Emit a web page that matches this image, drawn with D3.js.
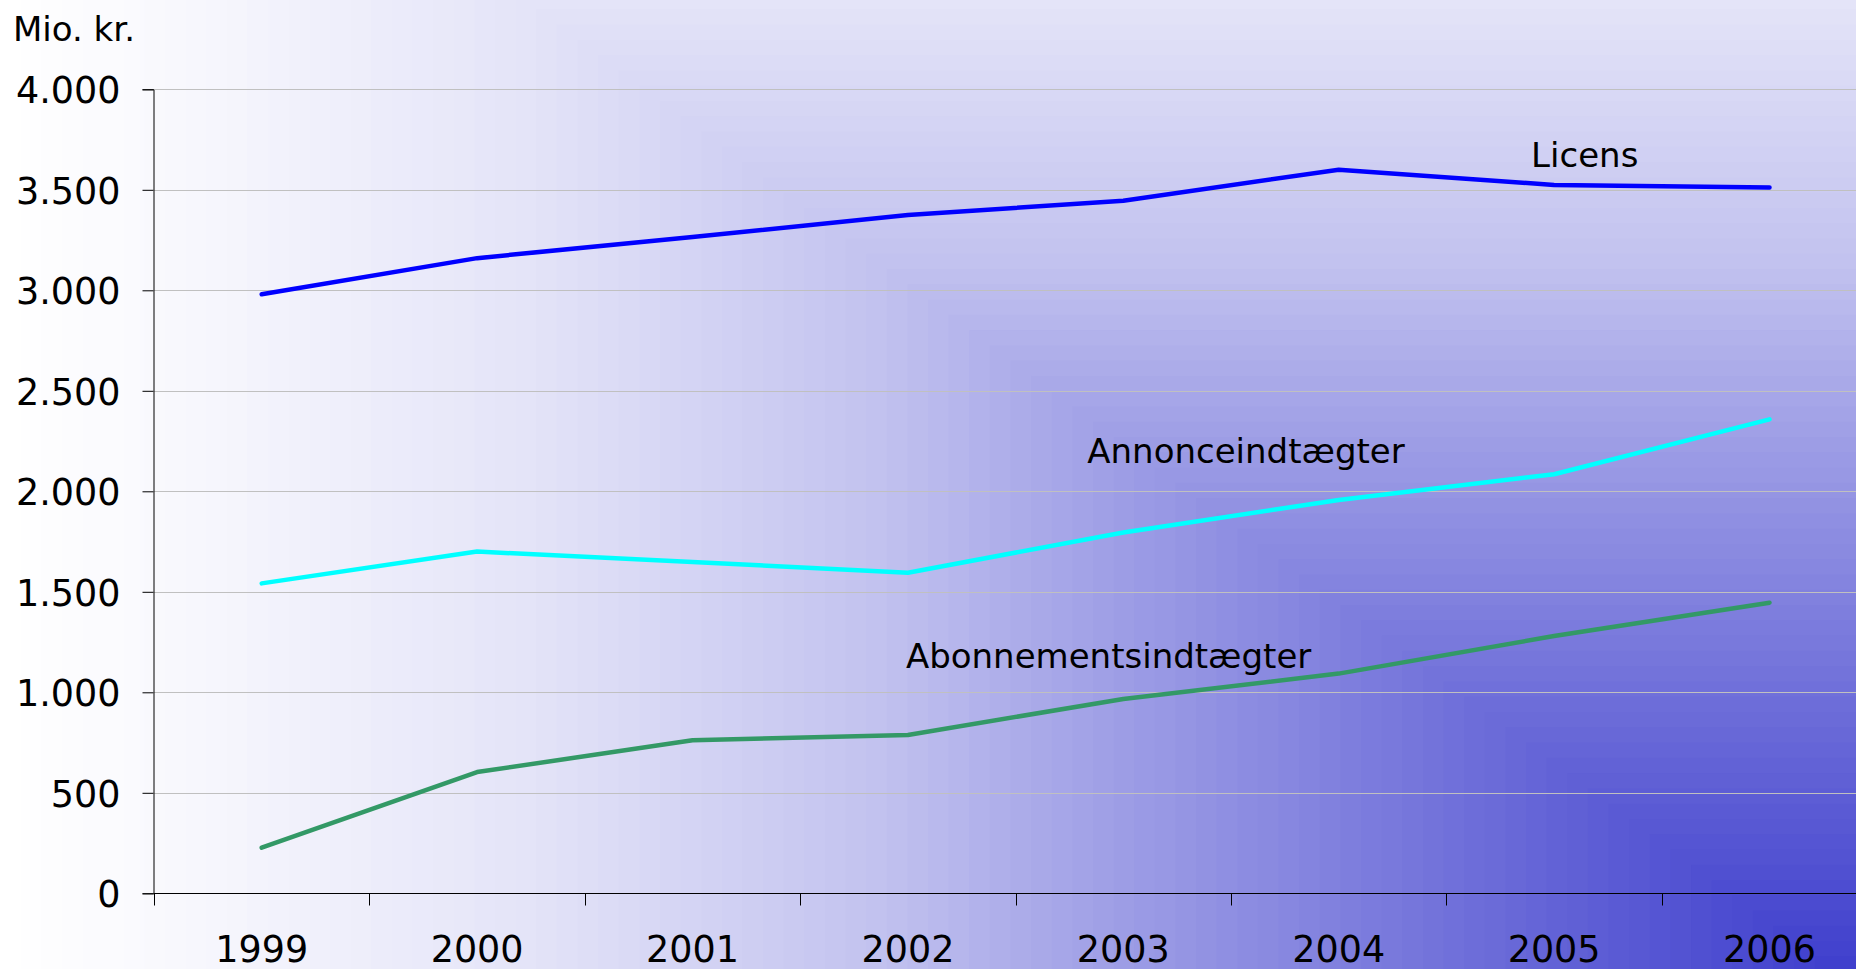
<!DOCTYPE html>
<html>
<head>
<meta charset="utf-8">
<script src="https://cdn.jsdelivr.net/npm/d3@7"></script>
<style>
  body { margin: 0; overflow: hidden; background: #fff; }
  svg { display: block; font-family: "DejaVu Sans", Verdana, sans-serif; }
</style>
</head>
<body>
<div id="chart"></div>
<script>
// Data
const years = ["1999", "2000", "2001", "2002", "2003", "2004", "2005", "2006"];
const licens = [2980, 3160, 3265, 3375, 3446, 3600, 3524, 3512];
const annonce = [1542, 1700, 1648, 1595, 1795, 1957, 2085, 2358];
const abonnement = [227, 603, 761, 788, 967, 1093, 1280, 1446];
const yTicks = [0, 500, 1000, 1500, 2000, 2500, 3000, 3500, 4000];

const series = [
    { name: "Licens", values: licens, color: "#0000ff", labelYear: "2005", labelValue: 3613, dx: -23 },
    { name: "Annonceindtægter", values: annonce, color: "#00ffff", labelYear: "2003", labelValue: 2142, dx: -36 },
    { name: "Abonnementsindtægter", values: abonnement, color: "#339966", labelYear: "2002", labelValue: 1122, dx: -2 },
];

const width = 1856;
const height = 969;
const margin = { top: 89.3, left: 154, bottom: 75.7 };
const band = 215.4;

const svg = d3.select("#chart")
    .append("svg")
    .attr("width", width)
    .attr("height", height);

// Background: corner gradient, L-shaped bands growing toward bottom right
const bg = { x0: 0, y0: -388, w: 1856, h: 1375 };
const ease = d3.scaleLinear()
    .domain([0, 0.095, 0.287, 0.38, 0.478, 0.574, 0.82, 1])
    .range([0, 0.035, 0.14, 0.23, 0.32, 0.46, 0.78, 1]);
const shade = d3.interpolateRgb("#ffffff", "#3c3ccc");
const nSteps = 90;
const steps = d3.range(0, nSteps).map(i => i / nSteps);
svg.append("g")
    .selectAll("rect")
    .data(steps)
    .join("rect")
    .attr("x", t => Math.max(0, bg.x0 + t * bg.w))
    .attr("y", t => Math.max(0, bg.y0 + t * bg.h))
    .attr("width", t => width - Math.max(0, bg.x0 + t * bg.w))
    .attr("height", t => height - Math.max(0, bg.y0 + t * bg.h))
    .attr("fill", t => shade(ease(t + 0.5 / nSteps)));

// Scales
const x = d3.scaleBand()
    .domain(years)
    .range([margin.left, margin.left + band * years.length]);

const y = d3.scaleLinear()
    .domain([0, 4000])
    .range([height - margin.bottom, margin.top]);

const cx = d => x(d) + x.bandwidth() / 2;

// Gridlines
svg.append("g")
    .selectAll("line")
    .data(yTicks.slice(1))
    .join("line")
    .attr("x1", margin.left)
    .attr("x2", width)
    .attr("y1", d => Math.round(y(d)) + 0.5)
    .attr("y2", d => Math.round(y(d)) + 0.5)
    .attr("stroke", "#c0c0c0")
    .attr("stroke-width", 1);

// Y axis
const yAxis = svg.append("g")
    .attr("transform", `translate(${margin.left - 0.5},0)`)
    .call(d3.axisLeft(y)
        .tickValues(yTicks)
        .tickSize(11)
        .tickPadding(22)
        .tickFormat(d => d3.format(",")(d).replace(/,/g, ".")));
yAxis.select(".domain").attr("stroke", "#000");
yAxis.selectAll(".tick line").attr("stroke", "#000");
yAxis.selectAll(".tick text")
    .attr("font-size", 36.5)
    .attr("font-family", "DejaVu Sans, Verdana, sans-serif")
    .attr("fill", "#000")
    .attr("dy", "0.37em");

// X axis: labels centred in bands, ticks on band edges
const xAxis = svg.append("g")
    .attr("transform", `translate(0,${Math.round(y(0)) + 0.5})`)
    .call(d3.axisBottom(x).tickSize(0).tickPadding(43));
xAxis.select(".domain").attr("d", `M${margin.left},0H${width}`).attr("stroke", "#000");
xAxis.selectAll(".tick text")
    .attr("font-size", 36.5)
    .attr("font-family", "DejaVu Sans, Verdana, sans-serif")
    .attr("fill", "#000");
xAxis.append("g")
    .selectAll("line")
    .data(years)
    .join("line")
    .attr("x1", d => Math.round(x(d)) + 0.5)
    .attr("x2", d => Math.round(x(d)) + 0.5)
    .attr("y1", 0)
    .attr("y2", 12)
    .attr("stroke", "#000");

// Lines
const line = d3.line()
    .x((d, i) => cx(years[i]))
    .y(d => y(d));

svg.append("g")
    .selectAll("path")
    .data(series)
    .join("path")
    .attr("fill", "none")
    .attr("stroke", d => d.color)
    .attr("stroke-width", 4.5)
    .attr("stroke-linecap", "round")
    .attr("stroke-linejoin", "round")
    .attr("d", d => line(d.values));

// Series labels
svg.append("g")
    .selectAll("text")
    .data(series)
    .join("text")
    .attr("x", d => cx(d.labelYear) + d.dx)
    .attr("y", d => y(d.labelValue))
    .attr("font-size", 34)
    .attr("fill", "#000")
    .text(d => d.name);

// Unit label
svg.append("text")
    .attr("x", 13)
    .attr("y", 40.7)
    .attr("font-size", 34)
    .attr("fill", "#000")
    .text("Mio. kr.");
</script>
</body>
</html>
